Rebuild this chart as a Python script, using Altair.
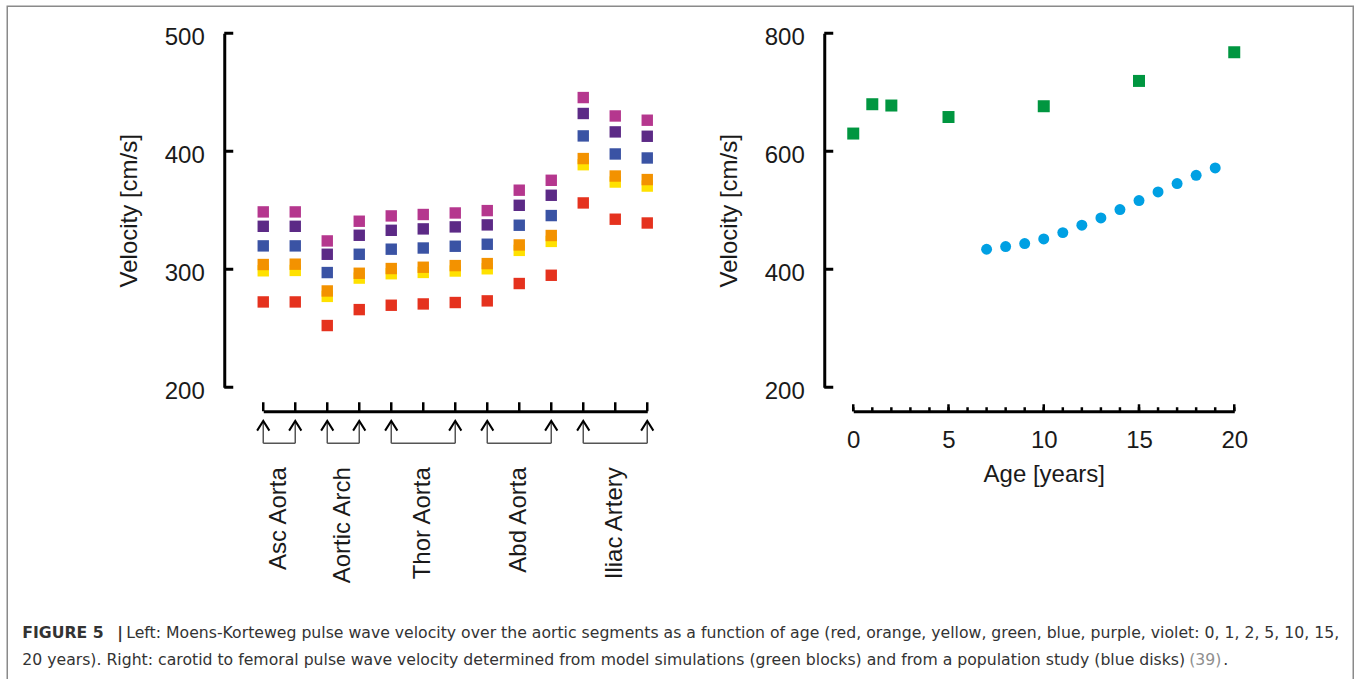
import altair as alt
import pandas as pd

# ---------------- data ----------------
segment_index = list(range(1, 14))
age_labels = ["0", "2", "1", "10", "15", "20"]          # drawing order (yellow under orange)
age_colors = ["#E5321E", "#FFE100", "#F39200", "#3A53A4", "#5C2A86", "#B5378E"]

pwv_age0 = [272.3, 272.3, 252.3, 265.8, 269.5, 270.6, 271.8, 273.2, 287.9, 294.9, 356.2, 342.4, 339.2]
pwv_age2 = [298.7, 299.0, 277.0, 292.5, 296.2, 297.3, 298.5, 300.4, 316.0, 323.6, 388.6, 373.9, 370.5]
pwv_age1 = [304.0, 304.3, 281.6, 296.6, 300.6, 301.7, 303.1, 304.8, 320.6, 328.6, 393.8, 379.0, 376.0]
pwv_age10 = [319.8, 319.8, 297.2, 312.7, 317.0, 318.0, 319.5, 321.2, 337.3, 345.5, 413.0, 397.7, 394.3]
pwv_age15 = [336.4, 336.4, 312.7, 328.8, 333.0, 334.2, 335.9, 337.6, 354.2, 362.7, 432.0, 416.4, 412.7]
pwv_age20 = [348.6, 348.6, 324.0, 340.7, 345.2, 346.4, 347.7, 349.7, 367.0, 375.4, 445.5, 429.9, 426.3]

arrow_index = [1, 2, 3, 4, 5, 7, 8, 10, 11, 13]
segment_names = ["Asc Aorta", "Aortic Arch", "Thor Aorta", "Abd Aorta", "Iliac Artery"]
segment_start = [1, 3, 5, 8, 11]
segment_end = [2, 4, 7, 10, 13]

left_y_ticks = [200, 300, 400, 500]
right_y_ticks = [200, 400, 600, 800]
right_x_major = [0, 5, 10, 15, 20]
right_x_minor = list(range(0, 21))

model_age = [0, 1, 2, 5, 10, 15, 20]
model_pwv = [630.0, 679.7, 677.5, 658.0, 676.3, 719.2, 767.8]
study_age = [7, 8, 9, 10, 11, 12, 13, 14, 15, 16, 17, 18, 19]
study_pwv = [433.9, 438.4, 443.5, 451.4, 462.1, 474.6, 487.0, 501.2, 516.4, 531.0, 545.2, 559.3, 571.7]

caption_bold = "FIGURE 5"
caption_bar = "|"
caption_line1 = ("Left: Moens-Korteweg pulse wave velocity over the aortic segments as a function of age "
                 "(red, orange, yellow, green, blue, purple, violet: 0, 1, 2, 5, 10, 15,")
caption_line2 = ("20 years). Right: carotid to femoral pulse wave velocity determined from model simulations "
                 "(green blocks) and from a population study (blue disks)")
caption_ref = "(39)"

FONT = "Liberation Sans"
CAP_FONT = "DejaVu Sans"
CAP_SIZE = 15.7
TXT = "#1a1a1a"

# ---------------- tables ----------------
series = [pwv_age0, pwv_age2, pwv_age1, pwv_age10, pwv_age15, pwv_age20]
rows = []
for k, (age, vals) in enumerate(zip(age_labels, series)):
    for i, v in zip(segment_index, vals):
        rows.append({"idx": i, "v": v, "age": age, "draw": k})
left_df = pd.DataFrame(rows)

W_L, H = 384, 354
W_R = 381

xs_left = alt.Scale(domain=[1, 13], nice=False, zero=False)
ys_left = alt.Scale(domain=[200, 500], nice=False, zero=False)

pts_left = alt.Chart(left_df).mark_square(size=130, opacity=1, filled=True).encode(
    x=alt.X("idx:Q", scale=xs_left,
            axis=alt.Axis(offset=24, labels=False, ticks=False, title=None, grid=False,
                          domainColor="black", domainWidth=3)),
    y=alt.Y("v:Q", scale=ys_left,
            axis=alt.Axis(offset=39, values=left_y_ticks, ticks=False, grid=False,
                          domainColor="black", domainWidth=3, labelPadding=20,
                          labelOffset=4, labelFontSize=24, labelFont=FONT, labelColor=TXT,
                          labelFlush=False,
                          title="Velocity [cm/s]", titleFontSize=24, titleFont=FONT,
                          titleFontWeight="normal", titleColor=TXT, titlePadding=23)),
    color=alt.Color("age:N", scale=alt.Scale(domain=age_labels, range=age_colors), legend=None),
    order=alt.Order("draw:Q"),
)

yt_left = alt.Chart(pd.DataFrame({"v": left_y_ticks})).mark_rule(color="black", strokeWidth=3).encode(
    y=alt.Y("v:Q", scale=ys_left), x=alt.value(-39), x2=alt.value(-30))

xt_left = alt.Chart(pd.DataFrame({"idx": segment_index})).mark_rule(color="black", strokeWidth=2.5).encode(
    x=alt.X("idx:Q", scale=xs_left), y=alt.value(378), y2=alt.value(369))

arrow_df = pd.DataFrame({"idx": arrow_index})
heads = alt.Chart(arrow_df).mark_point(shape="M-1,0.8L0,-0.8L1,0.8", size=150, filled=False,
                                       stroke="black", strokeWidth=2, opacity=1).encode(
    x=alt.X("idx:Q", scale=xs_left), y=alt.value(392.5))
stems = alt.Chart(arrow_df).mark_rule(color="#555555", strokeWidth=1.5).encode(
    x=alt.X("idx:Q", scale=xs_left), y=alt.value(389), y2=alt.value(410))

seg_df = pd.DataFrame({"idx": segment_start, "e": segment_end, "name": segment_names})
seg_df["mid"] = [(a + b) / 2 for a, b in zip(segment_start, segment_end)]
brackets = alt.Chart(seg_df).mark_rule(color="#555555", strokeWidth=1.5).encode(
    x=alt.X("idx:Q", scale=xs_left), x2="e:Q", y=alt.value(410))
seg_text = alt.Chart(seg_df).mark_text(angle=270, align="right", baseline="middle",
                                       fontSize=24, font=FONT, color=TXT).encode(
    x=alt.X("mid:Q", scale=xs_left), y=alt.value(434), text="name:N")

one = pd.DataFrame({"a": [0]})
border = alt.Chart(one).mark_rect(fill=None, stroke="#8a8a8a", strokeWidth=1.5).encode(
    x=alt.value(-256), x2=alt.value(1090), y=alt.value(-27), y2=alt.value(660))


def cap(text, x, y, color="#333333", weight="normal"):
    return alt.Chart(pd.DataFrame({"t": [text]})).mark_text(
        align="left", baseline="middle", fontSize=CAP_SIZE, font=CAP_FONT,
        fontWeight=weight, color=color).encode(x=alt.value(x), y=alt.value(y), text="t:N")


cap_layers = [
    cap(caption_bold, -241, 600, weight="bold"),
    cap(caption_bar, -146, 600, weight="bold"),
    cap(caption_line1, -137, 600),
    cap(caption_line2, -241, 627),
    cap(caption_ref, 926, 627, color="#8f8f8f"),
    cap(".", 960, 627),
]

left = alt.layer(pts_left, yt_left, xt_left, stems, heads, brackets, seg_text,
                 border, *cap_layers).properties(width=W_L, height=H)

# ---------------- right panel ----------------
xs_right = alt.Scale(domain=[0, 20], nice=False, zero=False)
ys_right = alt.Scale(domain=[200, 800], nice=False, zero=False)

model_pts = alt.Chart(pd.DataFrame({"age": model_age, "v": model_pwv})).mark_square(
    size=144, color="#009640", opacity=1, filled=True).encode(
    x=alt.X("age:Q", scale=xs_right,
            axis=alt.Axis(offset=24, values=right_x_major, ticks=False, grid=False,
                          domainColor="black", domainWidth=3, labelPadding=17,
                          labelFlush=False, labelOverlap=False,
                          labelFontSize=24, labelFont=FONT, labelColor=TXT,
                          title="Age [years]", titleFontSize=24, titleFont=FONT,
                          titleFontWeight="normal", titleColor=TXT, titlePadding=10)),
    y=alt.Y("v:Q", scale=ys_right,
            axis=alt.Axis(offset=29, values=right_y_ticks, ticks=False, grid=False,
                          domainColor="black", domainWidth=3, labelPadding=20,
                          labelOffset=4, labelFontSize=24, labelFont=FONT, labelColor=TXT,
                          labelFlush=False,
                          title="Velocity [cm/s]", titleFontSize=24, titleFont=FONT,
                          titleFontWeight="normal", titleColor=TXT, titlePadding=23)),
)
study_pts = alt.Chart(pd.DataFrame({"age": study_age, "v": study_pwv})).mark_circle(
    size=120, color="#00A0E3", opacity=1).encode(
    x=alt.X("age:Q", scale=xs_right), y=alt.Y("v:Q", scale=ys_right))

yt_right = alt.Chart(pd.DataFrame({"v": right_y_ticks})).mark_rule(color="black", strokeWidth=3).encode(
    y=alt.Y("v:Q", scale=ys_right), x=alt.value(-29), x2=alt.value(-20))
xt_minor = alt.Chart(pd.DataFrame({"age": right_x_minor})).mark_rule(color="black", strokeWidth=2.5).encode(
    x=alt.X("age:Q", scale=xs_right), y=alt.value(378), y2=alt.value(374))
xt_major = alt.Chart(pd.DataFrame({"age": right_x_major})).mark_rule(color="black", strokeWidth=2.5).encode(
    x=alt.X("age:Q", scale=xs_right), y=alt.value(378), y2=alt.value(371))

right = alt.layer(model_pts, study_pts, yt_right, xt_minor, xt_major).properties(width=W_R, height=H)

chart = alt.hconcat(left, right, spacing=206, bounds="flush").properties(
    padding={"left": 6.25, "top": 5.25, "right": 0, "bottom": 0},
    background="white",
).configure_view(stroke=None)

chart.save("out.html", embed_options={"renderer": "svg", "actions": False})
